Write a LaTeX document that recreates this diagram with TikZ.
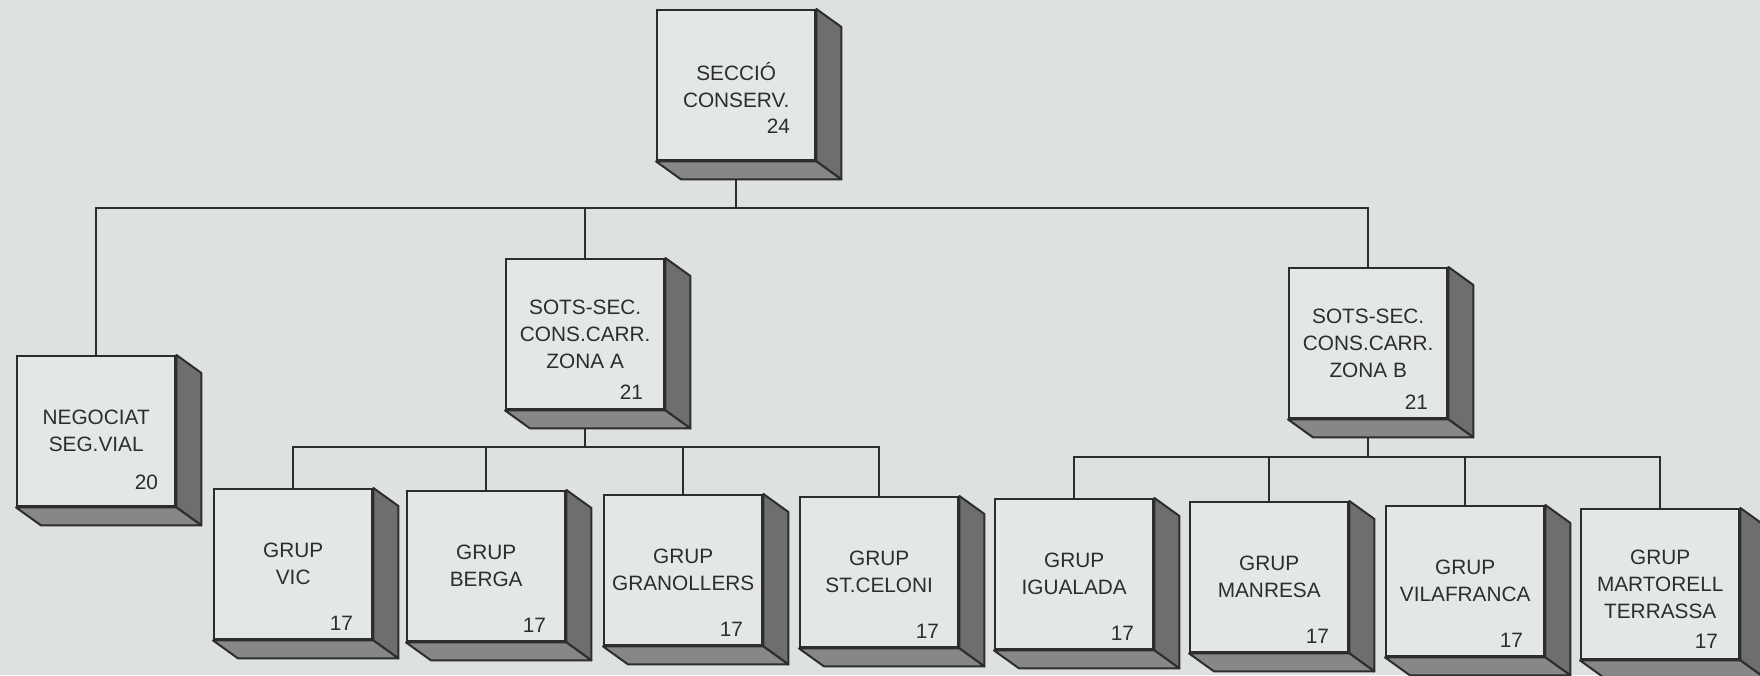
\documentclass[tikz,border=0pt]{standalone}
\usepackage{fontspec}
\setmainfont{Liberation Sans}
\usepackage{tikz}
\usetikzlibrary{calc}
\definecolor{paperbg}{RGB}{221, 225, 226}
\definecolor{boxfront}{RGB}{228, 231, 231}
\definecolor{boxline}{RGB}{45, 45, 45}
\definecolor{boxtext}{RGB}{45, 45, 45}
\definecolor{sideshade}{RGB}{110, 110, 110}
\definecolor{baseshade}{RGB}{135, 135, 135}

\begin{document}
\begin{tikzpicture}[x=0.5pt, y=-0.5pt,
    unitbox/.style={draw=boxline, fill=boxfront, line width=1.2pt,
        minimum width=79pt, minimum height=75pt, inner sep=0pt,
        anchor=north west, align=center, text=boxtext,
        font=\fontsize{10.4}{13.5}\selectfont},
    unitnum/.style={anchor=base east, inner sep=0pt, text=boxtext,
        font=\fontsize{10.4}{13.5}\selectfont},
    link/.style={draw=boxline, line width=1.1pt},
    sideface/.style={fill=sideshade, draw=boxline, line width=1pt, line join=round},
    baseface/.style={fill=baseshade, draw=boxline, line width=1pt, line join=round}]

    % Paper
    \useasboundingbox (0,0) rectangle (1760,675);
    \fill[paperbg] (0,0) rectangle (1760,675);

    % Head and sub-sections
    \node[unitbox] (seccio) at (656,9) {SECCIÓ\\CONSERV.};
    \node[unitbox] (negociat) at (16,355) {NEGOCIAT\\SEG.VIAL};
    \node[unitbox] (zonaa) at (505,258) {SOTS-SEC.\\CONS.CARR.\\ZONA A};
    \node[unitbox] (zonab) at (1288,267) {SOTS-SEC.\\CONS.CARR.\\ZONA B};

    % Groups
    \node[unitbox] (vic) at (213,488) {GRUP\\VIC};
    \node[unitbox] (berga) at (406,490) {GRUP\\BERGA};
    \node[unitbox] (granollers) at (603,494) {GRUP\\GRANOLLERS};
    \node[unitbox] (celoni) at (799,496) {GRUP\\ST.CELONI};
    \node[unitbox] (igualada) at (994,498) {GRUP\\IGUALADA};
    \node[unitbox] (manresa) at (1189,501) {GRUP\\MANRESA};
    \node[unitbox] (vilafranca) at (1385,505) {GRUP\\VILAFRANCA};
    \node[unitbox] (martorell) at (1580,508) {GRUP\\MARTORELL\\TERRASSA};

    % Numbers
    \foreach \n/\num/\in/\up in {seccio/24/13/14, negociat/20/9/9,
            zonaa/21/11/5.5, zonab/21/10/5, vic/17/10/5, berga/17/10/5,
            granollers/17/10/5, celoni/17/10/5, igualada/17/10/5,
            manresa/17/10/5, vilafranca/17/11/5, martorell/17/11/6}
        \node[unitnum] (\n-num) at ([xshift=-\in pt, yshift=\up pt]\n.south east) {\num};

    % Bus lines
    \coordinate (mainbus) at (0,208);
    \coordinate (busa) at (0,447);
    \coordinate (busb) at (0,457);

    \draw[link] (negociat.north) |- (mainbus -| zonab.north) -- (zonab.north);
    \draw[link] (seccio.south) -- (seccio.south |- mainbus);
    \draw[link] (zonaa.north) -- (zonaa.north |- mainbus);

    \draw[link] (vic.north) |- (busa -| celoni.north) -- (celoni.north);
    \draw[link] (zonaa.south) -- (zonaa.south |- busa);
    \foreach \n in {berga, granollers}
        \draw[link] (\n.north) -- (\n.north |- busa);

    \draw[link] (igualada.north) |- (busb -| martorell.north) -- (martorell.north);
    \draw[link] (zonab.south) -- (zonab.south |- busb);
    \foreach \n in {manresa, vilafranca}
        \draw[link] (\n.north) -- (\n.north |- busb);

    % Box depth (side and bottom faces)
    \foreach \n in {seccio, negociat, zonaa, zonab, vic, berga, granollers,
            celoni, igualada, manresa, vilafranca, martorell} {
        \draw[sideface] (\n.north east) -- ++(25,18)
            -- ($(\n.south east)+(25,18)$) -- (\n.south east) -- cycle;
        \draw[baseface] (\n.south west) -- (\n.south east) -- ++(25,18)
            -- ($(\n.south west)+(25,18)$) -- cycle;
    }
\end{tikzpicture}
\end{document}
